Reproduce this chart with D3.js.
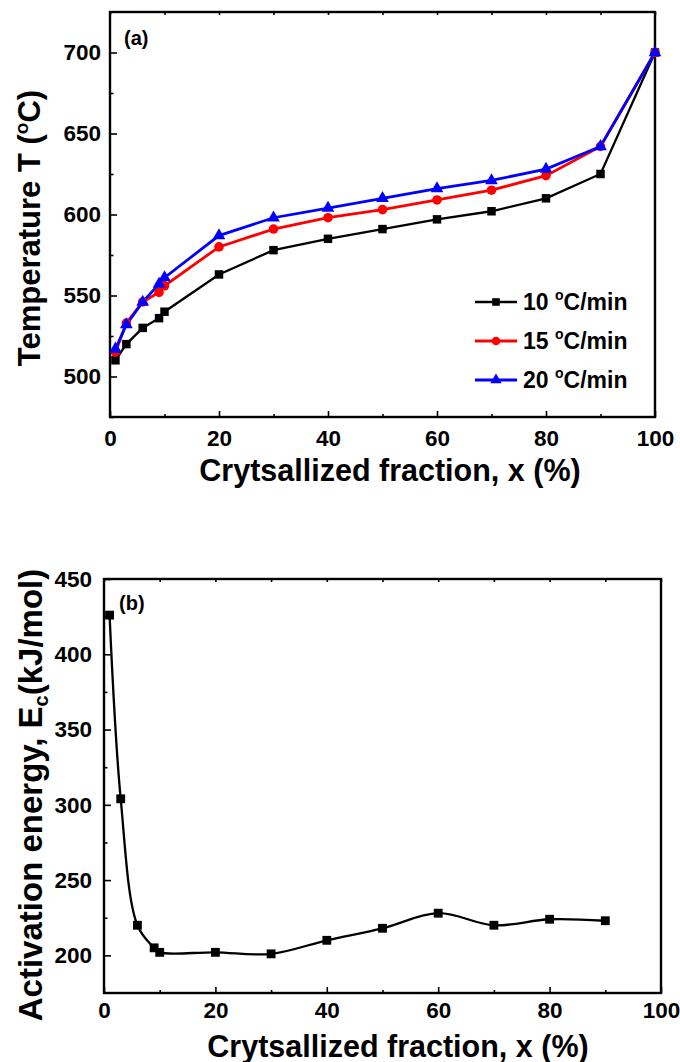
<!DOCTYPE html>
<html>
<head>
<meta charset="utf-8">
<script src="https://cdn.jsdelivr.net/npm/d3@7"></script>
<style>
body { margin: 0; background: #fff; }
text { font-family: "Liberation Sans", Arial, sans-serif; font-weight: bold; fill: #000; }
</style>
</head>
<body>
<div id="plot"></div>
<script>
// crystallized fraction (%) and peak temperatures for each heating rate
var fraction = [1, 3, 6, 9, 10, 20, 30, 40, 50, 60, 70, 80, 90, 100];
var temp10 = [510, 520, 530, 536, 540, 563, 578, 585, 591, 597, 602, 610, 625, 700];
var temp15 = [515, 533, 546, 552, 556, 580, 591, 598, 603, 609, 615, 624, 642, 700];
var temp20 = [517, 532, 546, 557, 561, 587, 598, 604, 610, 616, 621, 628, 642, 700];
var rates = ["10", "15", "20"];
var rateColors = ["#000000", "#ff0000", "#0000ff"];

// activation energy vs fraction
var eFraction = [1, 3, 6, 9, 10, 20, 30, 40, 50, 60, 70, 80, 90];
var energy = [426, 304, 220, 205, 202, 202, 201, 210, 218, 228, 220, 224, 223];

var xTicks = [0, 20, 40, 60, 80, 100];
var tTicks = [500, 550, 600, 650, 700];
var eTicks = [200, 250, 300, 350, 400, 450];

var svg = d3.select("#plot").append("svg").attr("width", 680).attr("height", 1062);

// ---------- (a) ----------
var x1 = d3.scaleLinear().domain([0, 100]).range([110, 655]);
var y1 = d3.scaleLinear().domain([475, 725]).range([417, 12]);

var ga = svg.append("g");
ga.append("g").attr("transform", "translate(0,417)").call(d3.axisBottom(x1).tickValues(d3.range(10, 100, 20)).tickSize(-3).tickFormat("")).call(g => g.select(".domain").remove());
ga.append("g").attr("transform", "translate(0,417)").call(d3.axisBottom(x1).tickValues(xTicks).tickSize(-6).tickPadding(13)).call(g => g.select(".domain").remove()).selectAll("text").attr("font-size", 22.5);
ga.append("g").attr("transform", "translate(0,12)").call(d3.axisTop(x1).tickValues(d3.range(0, 101, 10)).tickSize(-3).tickFormat("")).call(g => g.select(".domain").remove());
ga.append("g").attr("transform", "translate(110,0)").call(d3.axisLeft(y1).tickValues(d3.range(475, 725, 50)).tickSize(-3.5).tickFormat("")).call(g => g.select(".domain").remove());
ga.append("g").attr("transform", "translate(110,0)").call(d3.axisLeft(y1).tickValues(tTicks).tickSize(-7).tickPadding(9)).call(g => g.select(".domain").remove()).selectAll("text").attr("font-size", 22.5);
ga.selectAll(".tick line").attr("stroke", "#000").attr("stroke-width", 1.6);
ga.append("rect").attr("x", 110).attr("y", 12).attr("width", 545).attr("height", 405).attr("fill", "none").attr("stroke", "#000").attr("stroke-width", 2.4);

var series = [temp10, temp15, temp20];
var line1 = d3.line().x((d, i) => x1(fraction[i])).y(d => y1(d));
series.forEach(function(s, k) {
  ga.append("path").datum(s).attr("d", line1).attr("fill", "none").attr("stroke", rateColors[k]).attr("stroke-width", k == 0 ? 2.3 : 2.8);
});

var sym = [d3.symbolSquare, d3.symbolCircle, d3.symbolTriangle];
var symSize = [72, 72, 70];
series.forEach(function(s, k) {
  ga.append("g").selectAll("path").data(s).join("path")
    .attr("transform", (d, i) => `translate(${x1(fraction[i])},${y1(d)})`)
    .attr("d", d3.symbol().type(sym[k]).size(symSize[k])).attr("fill", rateColors[k]);
});

ga.append("text").attr("x", 124).attr("y", 45).attr("font-size", 20).text("(a)");

// legend
rates.forEach(function(r, k) {
  var ly = 302 + k * 39;
  ga.append("line").attr("x1", 475).attr("x2", 517).attr("y1", ly).attr("y2", ly).attr("stroke", rateColors[k]).attr("stroke-width", k == 0 ? 2.3 : 2.8);
  ga.append("path").attr("transform", `translate(496,${ly})`).attr("d", d3.symbol().type(sym[k]).size(symSize[k] * 0.8)).attr("fill", rateColors[k]);
  var t = ga.append("text").attr("x", 523).attr("y", ly + 8).attr("font-size", 23);
  t.append("tspan").text(r + " ");
  t.append("tspan").attr("font-size", 14).attr("dy", -10).text("o");
  t.append("tspan").attr("dy", 10).text("C/min");
});

var yt1 = ga.append("text").attr("transform", "translate(40,228) rotate(-90)").attr("text-anchor", "middle").attr("font-size", 31);
yt1.append("tspan").text("Temperature T (");
yt1.append("tspan").attr("font-size", 19).attr("dy", -12).text("o");
yt1.append("tspan").attr("dy", 12).text("C)");

ga.append("text").attr("x", 390).attr("y", 481).attr("text-anchor", "middle").attr("font-size", 30.5).text("Crytsallized fraction, x (%)");

// ---------- (b) ----------
var x2 = d3.scaleLinear().domain([0, 100]).range([104, 661]);
var y2 = d3.scaleLinear().domain([175, 450]).range([993, 579]);

var gb = svg.append("g");
gb.append("g").attr("transform", "translate(0,993)").call(d3.axisBottom(x2).tickValues(d3.range(10, 100, 20)).tickSize(-3).tickFormat("")).call(g => g.select(".domain").remove());
gb.append("g").attr("transform", "translate(0,993)").call(d3.axisBottom(x2).tickValues(xTicks).tickSize(-6).tickPadding(9)).call(g => g.select(".domain").remove()).selectAll("text").attr("font-size", 22.5);
gb.append("g").attr("transform", "translate(0,579)").call(d3.axisTop(x2).tickValues(d3.range(0, 101, 10)).tickSize(-3).tickFormat("")).call(g => g.select(".domain").remove());
gb.append("g").attr("transform", "translate(104,0)").call(d3.axisLeft(y2).tickValues(d3.range(225, 450, 50)).tickSize(-3.5).tickFormat("")).call(g => g.select(".domain").remove());
gb.append("g").attr("transform", "translate(104,0)").call(d3.axisLeft(y2).tickValues(eTicks).tickSize(-7).tickPadding(12)).call(g => g.select(".domain").remove()).selectAll("text").attr("font-size", 22.5);
gb.selectAll(".tick line").attr("stroke", "#000").attr("stroke-width", 1.6);
gb.append("rect").attr("x", 104).attr("y", 579).attr("width", 557).attr("height", 414).attr("fill", "none").attr("stroke", "#000").attr("stroke-width", 2.4);

var line2 = d3.line().x((d, i) => x2(eFraction[i])).y(d => y2(d)).curve(d3.curveCatmullRom.alpha(0.5));
gb.append("path").datum(energy).attr("d", line2).attr("fill", "none").attr("stroke", "#000").attr("stroke-width", 2.3);
gb.append("g").selectAll("path").data(energy).join("path")
  .attr("transform", (d, i) => `translate(${x2(eFraction[i])},${y2(d)})`)
  .attr("d", d3.symbol().type(d3.symbolSquare).size(78)).attr("fill", "#000");

gb.append("text").attr("x", 119).attr("y", 610).attr("font-size", 20).text("(b)");

var yt2 = gb.append("text").attr("transform", "translate(42,795) rotate(-90)").attr("text-anchor", "middle").attr("font-size", 33);
yt2.append("tspan").text("Activation energy, E");
yt2.append("tspan").attr("font-size", 20).attr("dy", 6).text("c");
yt2.append("tspan").attr("dy", -6).text("(kJ/mol)");

gb.append("text").attr("x", 398).attr("y", 1057).attr("text-anchor", "middle").attr("font-size", 30.5).text("Crytsallized fraction, x (%)");
</script>
</body>
</html>
